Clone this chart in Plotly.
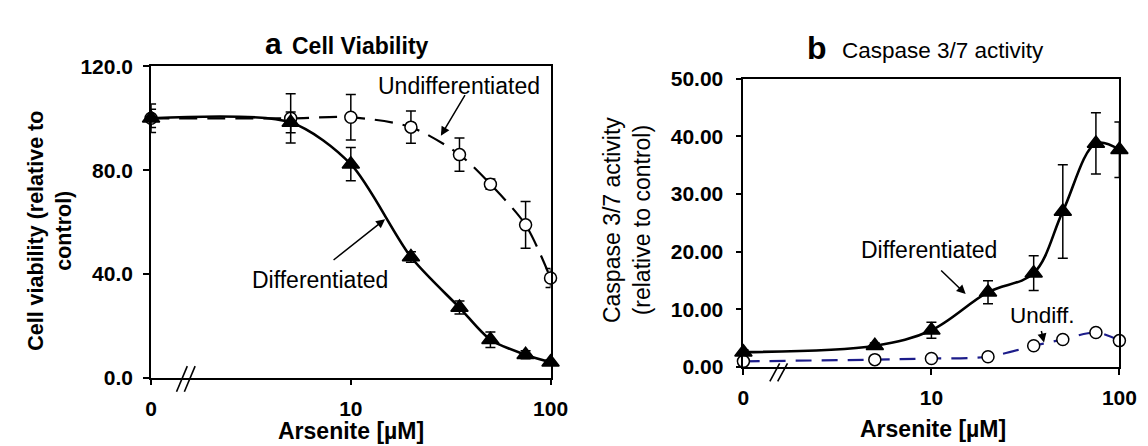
import plotly.graph_objects as go

# ---------------- data ----------------
conc = [0, 5, 10, 20, 35, 50, 75, 100]          # Arsenite [µM]; 0 is shown left of the axis break
x_tickvals = [1, 10, 100]
x_ticktext = ["0", "10", "100"]

# panel a: cell viability (relative to control)
via_diff = [100.0, 98.4, 82.3, 46.5, 27.0, 14.6, 8.8, 5.9]
via_diff_err = [3.5, 4.0, 6.4, 2.0, 2.5, 3.0, 1.5, 1.0]
via_undiff = [100.0, 100.0, 100.4, 96.6, 86.0, 74.6, 58.9, 38.4]
via_undiff_err = [5.5, 9.5, 8.8, 6.2, 6.4, 2.0, 9.0, 3.7]
a_yticks = [0, 40, 80, 120]
a_yticktext = ["0.0", "40.0", "80.0", "120.0"]

# panel b: caspase 3/7 activity (relative to control)
cas_diff = [2.6, 3.7, 6.4, 13.0, 16.3, 27.0, 38.8, 37.7]
cas_diff_err = [0.4, 0.5, 1.4, 2.0, 3.0, 8.1, 5.3, 4.8]
cas_undiff = [1.0, 1.3, 1.5, 1.8, 3.7, 4.8, 6.0, 4.6]
cas_undiff_err = [0.2, 0.2, 0.2, 0.2, 0.3, 0.3, 0.4, 0.3]
b_yticks = [0, 10, 20, 30, 40, 50]
b_yticktext = ["0.00", "10.00", "20.00", "30.00", "40.00", "50.00"]

# ---------------- figure ----------------
W, H = 1148, 446
FONT = "Liberation Sans, Arial, sans-serif"

def px(x):
    return x / W

def py(y):
    return 1 - y / H

xplot = [c if c > 0 else 1 for c in conc]

fig = go.Figure()

def add_series(xa, ya, yvals, err, symbol, fill, line_color, dash, lw, smooth):
    fig.add_trace(go.Scatter(
        x=xplot, y=yvals, xaxis=xa, yaxis=ya,
        mode="lines+markers",
        line=dict(color=line_color, width=lw, dash=dash, shape="spline", smoothing=smooth),
        marker=dict(symbol=symbol, size=15 if symbol == "triangle-up" else 12,
                    color=fill, line=dict(color="black", width=1.5)),
        error_y=dict(type="data", array=err, visible=True, color="black",
                     thickness=1.5, width=5),
        cliponaxis=False, showlegend=False, hoverinfo="skip",
    ))

add_series("x", "y", via_undiff, via_undiff_err, "circle", "white", "black", "18px,10px", 2.2, 0.8)
add_series("x", "y", via_diff, via_diff_err, "triangle-up", "black", "black", "solid", 2.6, 0.8)
add_series("x2", "y2", cas_undiff, cas_undiff_err, "circle", "white", "#1c1c8a", "16px,10px", 2.2, 0.9)
add_series("x2", "y2", cas_diff, cas_diff_err, "triangle-up", "black", "black", "solid", 2.6, 1.0)

axis_common = dict(
    showline=True, linecolor="black", linewidth=1.8, mirror=True,
    ticks="outside", ticklen=6, tickwidth=1.5, tickcolor="black",
    showgrid=False, zeroline=False,
    tickfont=dict(family=FONT, size=21, color="black", weight="bold"),
)

fig.update_layout(
    width=W, height=H, margin=dict(l=0, r=0, t=0, b=0),
    paper_bgcolor="white", plot_bgcolor="white",
    font=dict(family=FONT, color="black"),
    xaxis=dict(domain=[px(140), px(548)], type="log", range=[0, 2], anchor="y",
               tickvals=x_tickvals, ticktext=x_ticktext, ticklabelstandoff=5, **axis_common),
    yaxis=dict(domain=[py(377), py(49)], range=[0, 120], anchor="x",
               tickvals=a_yticks, ticktext=a_yticktext, ticklabelstandoff=6, **axis_common),
    xaxis2=dict(domain=[px(745), px(1129)], type="log", range=[0, 2], anchor="y2",
                tickvals=x_tickvals, ticktext=x_ticktext, ticklabelstandoff=5, **axis_common),
    yaxis2=dict(domain=[py(366), py(62)], range=[0, 50], anchor="x2",
                tickvals=b_yticks, ticktext=b_yticktext, ticklabelstandoff=8, **axis_common),
)

ann = []

def text(x, y, s, size, bold=False, angle=0):
    ann.append(dict(xref="paper", yref="paper", x=px(x), y=py(y), text=s, showarrow=False,
                    xanchor="center", yanchor="middle", textangle=angle,
                    font=dict(family=FONT, size=size, color="black",
                              weight="bold" if bold else "normal")))

def arrow(tail, tip):
    ann.append(dict(xref="paper", yref="paper", x=px(tip[0]), y=py(tip[1]),
                    axref="pixel", ayref="pixel", ax=tail[0] - tip[0], ay=tail[1] - tip[1],
                    text="", showarrow=True, arrowhead=2, arrowsize=1.2, arrowwidth=1.5,
                    arrowcolor="black", standoff=0))

# titles
text(265, 25, "a", 30, bold=True)
text(354, 27, "Cell Viability", 23, bold=True)
text(820, 30, "b", 32, bold=True)
text(949, 32, "Caspase 3/7 activity", 22.5)

# axis titles
text(344, 433, "Arsenite [µM]", 23, bold=True)
text(939, 431, "Arsenite [µM]", 23, bold=True)
text(36, 222, "Cell viability (relative to<br>control)", 21.5, bold=True, angle=-90)
text(626, 211, "Caspase 3/7 activity<br>(relative to control)", 23, angle=-90)

# curve labels
text(454, 70, "Undifferentiated", 23)
arrow((461, 80), (436, 122))
text(313, 274, "Differentiated", 23)
arrow((326, 252), (379, 210))
text(935, 242, "Differentiated", 23)
arrow((946, 264), (972, 289))
text(1050, 312, "Undiff.", 22.5)
arrow((1049, 327), (1052, 340))

fig.update_layout(annotations=ann)

# axis breaks "//"
shapes = []
for (x0, y0, x1, y1) in [(166, 392, 177, 365), (174, 392, 185, 365),
                         (772, 381, 782, 362), (780, 381, 790, 362)]:
    shapes.append(dict(type="line", xref="paper", yref="paper",
                       x0=px(x0), y0=py(y0), x1=px(x1), y1=py(y1),
                       line=dict(color="black", width=1.6)))
fig.update_layout(shapes=shapes)

fig.write_html("out.html")
